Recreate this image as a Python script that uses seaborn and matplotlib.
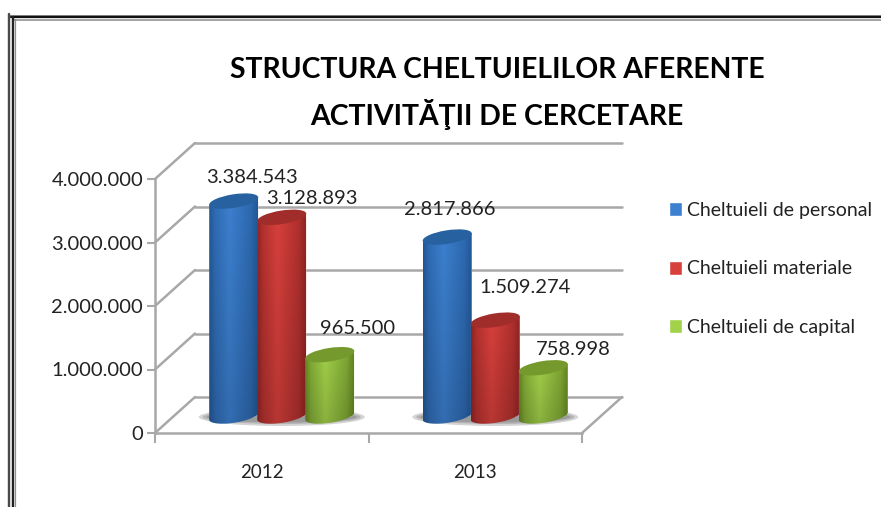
# structura cheltuielilor - 3d style cylinder bars

# ====== IMPORTS ======
import numpy as np
import pandas as pd
import seaborn as sns
import matplotlib.pyplot as plt
from matplotlib.lines import Line2D
from matplotlib.patches import Ellipse
from matplotlib.path import Path
from matplotlib.transforms import IdentityTransform

# ====== DATA ======
years = ["2012", "2013"]
series = ["Cheltuieli de personal", "Cheltuieli materiale", "Cheltuieli de capital"]
personal = [3384543, 2817866]
materiale = [3128893, 1509274]
capital = [965500, 758998]
y_ticks = [0, 1000000, 2000000, 3000000, 4000000]
y_labels = ["0", "1.000.000", "2.000.000", "3.000.000", "4.000.000"]
value_labels = ["3.384.543", "2.817.866", "3.128.893", "1.509.274", "965.500", "758.998"]

df = pd.DataFrame({
    "an": years * 3,
    "serie": [series[0]] * 2 + [series[1]] * 2 + [series[2]] * 2,
    "valoare": personal + materiale + capital,
})

# colours: mid, edge, top of cylinder
mid_cols = ["#3c80d0", "#d8403c", "#a2d14a"]
edge_cols = ["#1f5391", "#8a2120", "#5e7f1f"]
top_cols = ["#27619f", "#a02d2a", "#76992d"]

W, H = 881, 507
GREY = "#a8a8a8"


def hex2rgb(c):
    return np.array([int(c[i:i + 2], 16) / 255 for i in (1, 3, 5)])


# ====== PLOT ======
sns.set_style("white")
plt.rcParams["font.family"] = ["Lato", "DejaVu Sans"]
fig = plt.figure(figsize=(W / 100, H / 100), dpi=100, facecolor="white")
ax = fig.add_axes([155 / W, (H - 433) / H, 427 / W, 254 / H])
ax.patch.set_alpha(0)

sns.barplot(data=df, x="an", y="valoare", hue="serie", hue_order=series, palette=mid_cols,
            width=0.675, gap=0, saturation=1, errorbar=None, ax=ax)
ax.set_xlim(-0.5, 1.5)
ax.set_ylim(0, 4000000)
ax.set_xlabel("")
ax.set_ylabel("")

# axes look
ax.set_yticks(y_ticks)
ax.set_yticklabels(y_labels, fontsize=14.5, color="#222222")
ax.tick_params(axis="y", length=6, width=1.5, color=GREY, pad=2.5, left=True)
ax.set_xticks([0, 1])
ax.set_xticklabels(years, fontsize=13.5, color="#222222")
ax.set_xticks([-0.5, 0.5, 1.5], minor=True)
ax.tick_params(axis="x", which="major", length=0, pad=22.5)
ax.tick_params(axis="x", which="minor", length=7, width=1.5, color=GREY, bottom=True)
sns.despine(ax=ax)
for side in ["left", "bottom"]:
    ax.spines[side].set_color(GREY)
    ax.spines[side].set_linewidth(1.8)

# back wall, floor, side wall
dx, dy = 40, 36
for v in y_ticks:
    x0, y0 = ax.transData.transform((-0.5, v))
    x1, _ = ax.transData.transform((1.5, v))
    ax.add_line(Line2D([x0, x0 + dx], [y0, y0 + dy], color=GREY, lw=1.8, clip_on=False,
                       transform=IdentityTransform(), zorder=1))
    ax.add_line(Line2D([x0 + dx, x1 + dx], [y0 + dy, y0 + dy], color=GREY, lw=1.8, clip_on=False,
                       transform=IdentityTransform(), zorder=1))
x1, y1 = ax.transData.transform((1.5, 0))
ax.add_line(Line2D([x1, x1 + dx], [y1, y1 + dy], color=GREY, lw=1.8, clip_on=False,
                   transform=IdentityTransform(), zorder=1))

# ====== CYLINDERS ======
shift_x = 20 / 213.5       # bars stand inside the floor
base_lift = 17 / 63.5 * 1e6
tilt = np.deg2rad(9)
ell_h = 13.5

bars = [b for c in ax.containers for b in c]
for i, bar in enumerate(bars):
    s = i // 2
    bar.set_x(bar.get_x() + shift_x)
    bar.set_y(base_lift)
    cx_data = bar.get_x() + bar.get_width() / 2
    top_data = bar.get_height() + base_lift
    cx, top = ax.transData.transform((cx_data, top_data))
    _, base = ax.transData.transform((cx_data, base_lift))
    w = 49
    a, b = w / 2 / np.cos(tilt), ell_h / 2
    rise = w / 2 * np.tan(tilt)
    z = 3 + s

    # lower half of the base ellipse closes the body
    t = np.linspace(0, -np.pi, 40)
    ex = cx + a * np.cos(t) * np.cos(tilt) - b * np.sin(t) * np.sin(tilt)
    ey = base + a * np.cos(t) * np.sin(tilt) + b * np.sin(t) * np.cos(tilt)
    verts = np.vstack([[cx - w / 2, top - rise], [cx + w / 2, top + rise], np.column_stack([ex, ey]),
                       [cx - w / 2, top - rise]])
    body = Path(verts)

    # horizontal shading, darker to the foot
    u = np.linspace(0, 1, 80)
    mix = np.interp(u, [0, 0.12, 0.42, 0.85, 1], [0.1, 0.55, 1.0, 0.5, 0.1])
    grad = hex2rgb(edge_cols[s]) + (hex2rgb(mid_cols[s]) - hex2rgb(edge_cols[s])) * mix[:, None]
    fade = np.linspace(1.0, 0.85, 40)
    img = fade[:, None, None] * grad[None, :, :]
    left_d = ax.transData.inverted().transform((cx - w / 2, 0))[0]
    right_d = ax.transData.inverted().transform((cx + w / 2, 0))[0]
    low_d = ax.transData.inverted().transform((0, base - 8))[1]
    high_d = ax.transData.inverted().transform((0, top + 8))[1]
    bar.set_zorder(z)
    bar.set_clip_path(body, IdentityTransform())
    im = ax.imshow(img, extent=(left_d, right_d, low_d, high_d), aspect="auto", zorder=z,
                   interpolation="bilinear")
    im.set_clip_path(body, IdentityTransform())

    ax.add_patch(Ellipse((cx, top), 2 * a, ell_h, angle=np.rad2deg(tilt), facecolor=top_cols[s],
                         edgecolor="none", transform=IdentityTransform(), zorder=z + 0.1, clip_on=False))

ax.set_xlim(-0.5, 1.5)
ax.set_ylim(0, 4000000)

# soft shadow under each group
for g in range(2):
    mid_bar = bars[g + 2]
    gx = ax.transData.transform((mid_bar.get_x() + mid_bar.get_width() / 2, base_lift))
    for sw, sh in [(166, 18), (158, 14), (150, 11)]:
        ax.add_patch(Ellipse((gx[0], gx[1] - 1), sw, sh, facecolor="#555555", alpha=0.25, edgecolor="none",
                             transform=IdentityTransform(), zorder=2, clip_on=False))

# ====== VALUE LABELS ======
# order follows the bars: personal 2012/2013, materiale 2012/2013, capital 2012/2013
offs = [(18, 24), (3, 28), (30, 19), (30, 33), (28, 26), (30, 18)]
for i, bar in enumerate(bars):
    cx = bar.get_x() + bar.get_width() / 2
    ax.annotate(value_labels[i], (cx, bar.get_y() + bar.get_height()), xytext=offs[i],
                textcoords="offset pixels", ha="center", va="center", fontsize=14.5,
                color="#222222", zorder=10, annotation_clip=False)

# ====== LEGEND ======
sns.move_legend(ax, loc="center left", bbox_to_anchor=(651 / W, (H - 269) / H),
                bbox_transform=fig.transFigure, frameon=False, title=None, fontsize=14,
                handlelength=0.7, handleheight=0.7, handletextpad=0.25, labelspacing=2.13)
for t in ax.get_legend().get_texts():
    t.set_color("#222222")

# ====== TITLE ======
fig.text(497 / W, 1 - 78 / H, "STRUCTURA CHELTUIELILOR AFERENTE", ha="center", va="baseline",
         fontsize=20.4, fontweight="bold", color="black")
fig.text(497 / W, 1 - 124.5 / H, "ACTIVITĂŢII DE CERCETARE", ha="center", va="baseline",
         fontsize=20.4, fontweight="bold", color="black")

# ====== PAGE BORDER ======
frame = [
    ([8.5, W], [14.5, 14.5], "#8a8a8a", 1.0),
    ([11, W], [17, 17], "#111111", 2.2),
    ([14, W], [19.5, 19.5], "#909090", 1.6),
    ([9, 9], [14, H], "#4a4a4a", 2.4),
    ([13, 13], [17, H], "#222222", 2.4),
    ([14.5, 14.5], [19, H], "#909090", 1.2),
]
for xs, ys, col, lw in frame:
    fig.add_artist(Line2D([x / W for x in xs], [1 - y / H for y in ys], color=col, lw=lw * 0.72,
                          transform=fig.transFigure))

fig.savefig("out.png", dpi=100)
plt.close(fig)
